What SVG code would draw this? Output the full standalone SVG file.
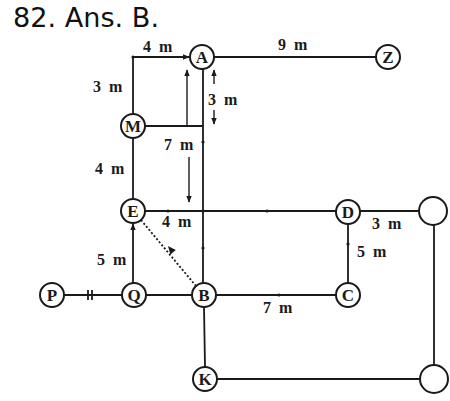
<svg xmlns="http://www.w3.org/2000/svg" width="450" height="401" viewBox="0 0 450 401">
<defs>
<style>
.ln{stroke:#1a1a1a;stroke-width:1.8;fill:none}
.ar{stroke:#1a1a1a;stroke-width:1.4;fill:none}
.nd{fill:#fff;stroke:#1a1a1a;stroke-width:2}
.nt{font-family:"Liberation Serif",serif;font-weight:bold;font-size:17px;fill:#1a1a1a;text-anchor:middle}
.lb{font-family:"Liberation Serif",serif;font-weight:bold;font-size:16px;word-spacing:4px;fill:#1a1a1a}
.dt{fill:#1a1a1a}
</style>
<marker id="ah" viewBox="0 0 10 10" refX="9" refY="5" markerWidth="7" markerHeight="7" orient="auto-start-reverse" markerUnits="userSpaceOnUse">
<path d="M0,1 L10,5 L0,9 Z" fill="#1a1a1a"/>
</marker>
</defs>
<rect width="450" height="401" fill="#fff"/>
<text x="13" y="27" font-family="DejaVu Sans, sans-serif" font-size="26" fill="#111" textLength="146" lengthAdjust="spacingAndGlyphs">82. Ans. B.</text>
<g id="connectors">
<line class="ln" x1="214" y1="57" x2="376" y2="57"/>
<line class="ln" x1="203" y1="69" x2="203" y2="284"/>
<polyline class="ln" points="133,114 133,57 189,57" marker-end="url(#ah)"/>
<line class="ln" x1="145" y1="126" x2="203" y2="126"/>
<line class="ln" x1="133" y1="138" x2="133" y2="198"/>
<line class="ln" x1="145" y1="211" x2="336" y2="211"/>
<line class="ln" x1="360" y1="211" x2="419" y2="211"/>
<line class="ln" x1="434" y1="225" x2="434" y2="365"/>
<line class="ln" x1="348" y1="224" x2="348" y2="283"/>
<line class="ln" x1="146" y1="295" x2="192" y2="295"/>
<line class="ln" x1="216" y1="295" x2="336" y2="295"/>
<line class="ln" x1="64" y1="295" x2="122" y2="295"/>
<line class="ln" x1="133" y1="283" x2="133" y2="224" marker-end="url(#ah)"/>
<line class="ln" x1="204" y1="307" x2="205" y2="367"/>
<line class="ln" x1="217" y1="379" x2="420" y2="379"/>
<line class="ln" x1="141" y1="220" x2="196" y2="286" stroke-dasharray="2 2"/>
<path d="M168,246 L175.8,250 L170.4,254.4 Z" fill="#1a1a1a"/>
<line class="ln" x1="88" y1="290" x2="88" y2="300"/>
<line class="ln" x1="92" y1="290" x2="92" y2="300"/>
<line class="ar" x1="187" y1="126" x2="187" y2="70" marker-end="url(#ah)"/>
<line class="ar" x1="189" y1="157" x2="189" y2="202" marker-end="url(#ah)"/>
<line class="ar" x1="214" y1="84" x2="214" y2="70" marker-end="url(#ah)"/>
<line class="ar" x1="214" y1="110" x2="214" y2="124" marker-end="url(#ah)"/>
<circle class="dt" cx="133" cy="57" r="1.6"/>
<circle class="dt" cx="203" cy="142" r="1.6"/>
<circle class="dt" cx="203" cy="248" r="1.6"/>
<circle class="dt" cx="168" cy="211" r="1.6"/>
<circle class="dt" cx="203" cy="211" r="1.6"/>
<circle class="dt" cx="267" cy="211" r="1.6"/>
<circle class="dt" cx="348" cy="244" r="1.6"/>
<circle class="dt" cx="279" cy="295" r="1.6"/>
</g>
<g id="labels">
<text class="lb" x="143" y="52">4 m</text>
<text class="lb" x="93" y="92">3 m</text>
<text class="lb" x="278" y="50">9 m</text>
<text class="lb" x="208" y="105">3 m</text>
<text class="lb" x="164" y="150">7 m</text>
<text class="lb" x="95" y="174">4 m</text>
<text class="lb" x="162" y="227">4 m</text>
<text class="lb" x="97" y="265">5 m</text>
<text class="lb" x="372" y="229">3 m</text>
<text class="lb" x="357" y="257">5 m</text>
<text class="lb" x="263" y="313">7 m</text>
</g>
<g id="node-A"><circle class="nd" cx="202" cy="57" r="12"/><text class="nt" x="202" y="63">A</text></g>
<g id="node-Z"><circle class="nd" cx="388" cy="57" r="12"/><text class="nt" x="388" y="63">Z</text></g>
<g id="node-M"><circle class="nd" cx="133" cy="126" r="12"/><text class="nt" x="133" y="132">M</text></g>
<g id="node-E"><circle class="nd" cx="133" cy="211" r="12"/><text class="nt" x="133" y="217">E</text></g>
<g id="node-D"><circle class="nd" cx="348" cy="212" r="12"/><text class="nt" x="348" y="218">D</text></g>
<g id="node-R1"><circle class="nd" cx="433" cy="211" r="14"/></g>
<g id="node-C"><circle class="nd" cx="348" cy="295" r="12"/><text class="nt" x="348" y="301">C</text></g>
<g id="node-B"><circle class="nd" cx="204" cy="295" r="12"/><text class="nt" x="204" y="301">B</text></g>
<g id="node-Q"><circle class="nd" cx="134" cy="295" r="12"/><text class="nt" x="134" y="301">Q</text></g>
<g id="node-P"><circle class="nd" cx="52" cy="295" r="12"/><text class="nt" x="52" y="301">P</text></g>
<g id="node-K"><circle class="nd" cx="205" cy="379" r="12"/><text class="nt" x="205" y="385">K</text></g>
<g id="node-R2"><circle class="nd" cx="434" cy="379" r="14"/></g>
</svg>
